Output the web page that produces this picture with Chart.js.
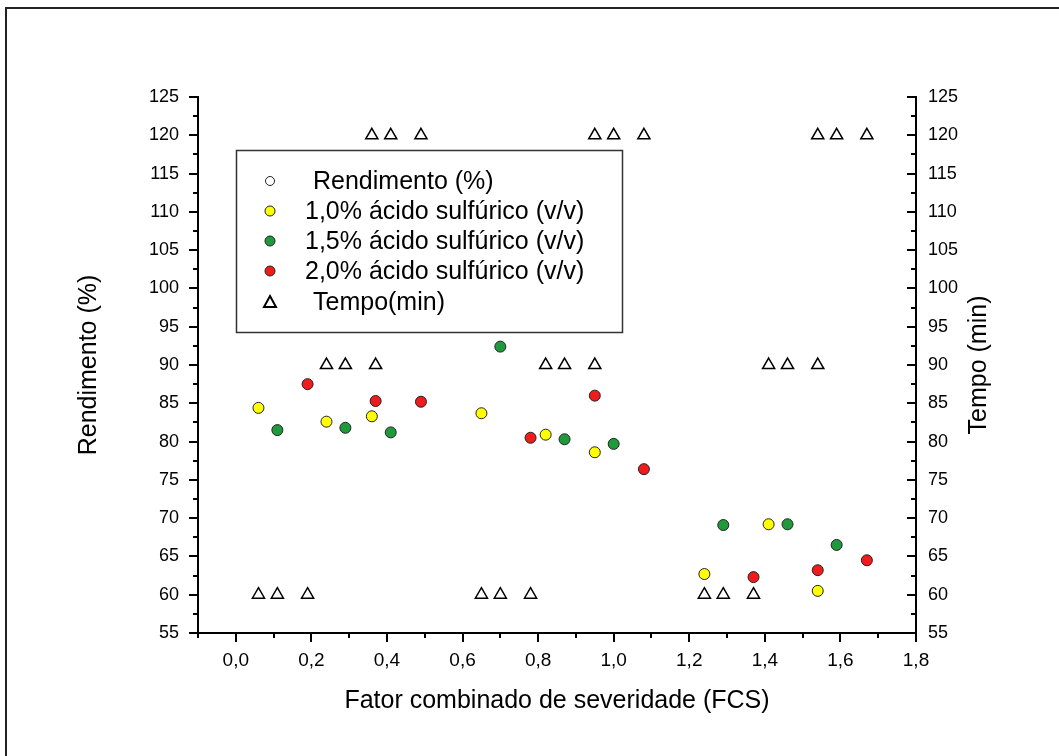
<!DOCTYPE html>
<html>
<head>
<meta charset="utf-8">
<script src="https://cdn.jsdelivr.net/npm/chart.js@4/dist/chart.umd.min.js"></script>
<style>
html,body{margin:0;padding:0;background:#fff;}
#wrap{position:relative;width:1059px;height:756px;}
</style>
</head>
<body>
<div id="wrap"><canvas id="c" width="1059" height="756"></canvas></div>
<script>
// ---- data ----
const fcs10 = [0.06, 0.24, 0.36, 0.65, 0.82, 0.95, 1.24, 1.41, 1.54];
const rend10 = [84.4, 82.6, 83.3, 83.7, 80.9, 78.6, 62.7, 69.2, 60.5];
const fcs15 = [0.11, 0.29, 0.41, 0.70, 0.87, 1.00, 1.29, 1.46, 1.59];
const rend15 = [81.5, 81.8, 81.2, 92.4, 80.3, 79.7, 69.1, 69.2, 66.5];
const fcs20 = [0.19, 0.37, 0.49, 0.78, 0.95, 1.08, 1.37, 1.54, 1.67];
const rend20 = [87.5, 85.3, 85.2, 80.5, 86.0, 76.4, 62.3, 63.2, 64.5];
const fcsTempo = [0.06, 0.11, 0.19, 0.65, 0.70, 0.78, 1.24, 1.29, 1.37,
                  0.24, 0.29, 0.37, 0.82, 0.87, 0.95, 1.41, 1.46, 1.54,
                  0.36, 0.41, 0.49, 0.95, 1.00, 1.08, 1.54, 1.59, 1.67];
const tempo = [60, 60, 60, 60, 60, 60, 60, 60, 60,
               90, 90, 90, 90, 90, 90, 90, 90, 90,
               120, 120, 120, 120, 120, 120, 120, 120, 120];
const legendLabels = ['Rendimento (%)', '1,0% ácido sulfúrico (v/v)', '1,5% ácido sulfúrico (v/v)', '2,0% ácido sulfúrico (v/v)', 'Tempo(min)'];
const xTitle = 'Fator combinado de severidade (FCS)';
const yTitle = 'Rendimento (%)';
const y2Title = 'Tempo (min)';

const pts = (xs, ys) => xs.map((x, i) => ({x: x, y: ys[i]}));

const FONT = "'Liberation Sans', Arial, sans-serif";

const frame = {
  id: 'frame',
  beforeDraw(chart) {
    const ctx = chart.ctx;
    ctx.save();
    ctx.strokeStyle = '#222';
    ctx.lineWidth = 2;
    ctx.strokeRect(6, 8, 2000, 2000);
    ctx.restore();
  }
};

const tickMarks = {
  id: 'tickMarks',
  afterDraw(chart) {
    const ctx = chart.ctx;
    const ca = chart.chartArea;
    ctx.save();
    ctx.strokeStyle = '#000';
    ctx.lineWidth = 2;
    const sx = chart.scales.x, sy = chart.scales.y, sy2 = chart.scales.y2;
    sx.ticks.forEach(t => {
      const p = Math.round(sx.getPixelForValue(t.value));
      const major = Math.abs(Math.round(t.value * 10)) % 2 === 0;
      const len = major ? 9 : 5;
      ctx.beginPath(); ctx.moveTo(p, ca.bottom); ctx.lineTo(p, ca.bottom + len); ctx.stroke();
    });
    sy.ticks.forEach(t => {
      const p = Math.round(sy.getPixelForValue(t.value));
      const major = Math.abs(Math.round(t.value * 2)) % 2 === 0;
      const len = major ? 9 : 5;
      ctx.beginPath(); ctx.moveTo(ca.left, p); ctx.lineTo(ca.left - len, p); ctx.stroke();
    });
    sy2.ticks.forEach(t => {
      const p = Math.round(sy2.getPixelForValue(t.value));
      const major = Math.abs(Math.round(t.value * 2)) % 2 === 0;
      const len = major ? 9 : 5;
      ctx.beginPath(); ctx.moveTo(ca.right, p); ctx.lineTo(ca.right - len, p); ctx.stroke();
    });
    // right axis title, reading bottom-to-top
    ctx.translate(979, (ca.top + ca.bottom) / 2);
    ctx.rotate(-Math.PI / 2);
    ctx.fillStyle = '#000';
    ctx.font = "25px " + FONT;
    ctx.textAlign = 'center';
    ctx.textBaseline = 'middle';
    ctx.fillText(y2Title, 0, 0);
    ctx.restore();
  }
};

const legendBox = {
  id: 'legendBox',
  afterDraw(chart) {
    const ctx = chart.ctx;
    ctx.save();
    ctx.strokeStyle = '#333';
    ctx.lineWidth = 1.5;
    ctx.strokeRect(236.5, 150.5, 386, 182);
    const rows = [181, 211, 241, 271, 302];
    const textX = [313, 305, 305, 305, 313];
    const fills = ['#ffffff', '#ffff00', '#1e9a3c', '#ee1c1c'];
    const radii = [4.5, 5, 5, 5];
    for (let i = 0; i < 4; i++) {
      ctx.beginPath();
      ctx.arc(270, rows[i], radii[i], 0, Math.PI * 2);
      ctx.fillStyle = fills[i];
      ctx.fill();
      ctx.lineWidth = 1;
      ctx.strokeStyle = '#222';
      ctx.stroke();
    }
    // triangle
    ctx.beginPath();
    ctx.moveTo(270, rows[4] - 6);
    ctx.lineTo(276, rows[4] + 5);
    ctx.lineTo(264, rows[4] + 5);
    ctx.closePath();
    ctx.lineWidth = 2;
    ctx.strokeStyle = '#000';
    ctx.stroke();
    ctx.fillStyle = '#000';
    ctx.font = "25px " + FONT;
    ctx.textBaseline = 'middle';
    ctx.textAlign = 'left';
    legendLabels.forEach((l, i) => ctx.fillText(l, textX[i], rows[i] + 1));
    ctx.restore();
  }
};

const ptStyle = (color) => ({
  type: 'scatter',
  backgroundColor: color,
  borderColor: '#222',
  borderWidth: 1,
  pointRadius: 5.5,
  pointHoverRadius: 5.5,
  yAxisID: 'y'
});

new Chart(document.getElementById('c'), {
  type: 'scatter',
  data: {
    datasets: [
      Object.assign({label: legendLabels[1], data: pts(fcs10, rend10)}, ptStyle('#ffff00')),
      Object.assign({label: legendLabels[2], data: pts(fcs15, rend15)}, ptStyle('#1e9a3c')),
      Object.assign({label: legendLabels[3], data: pts(fcs20, rend20)}, ptStyle('#ee1c1c')),
      {
        label: legendLabels[4],
        data: pts(fcsTempo, tempo),
        yAxisID: 'y2',
        pointStyle: 'triangle',
        pointRadius: 7,
        pointHoverRadius: 7,
        backgroundColor: 'rgba(255,255,255,1)',
        borderColor: '#000',
        borderWidth: 1.5
      }
    ]
  },
  options: {
    responsive: false,
    animation: false,
    events: [],
    layout: {padding: {left: 74, right: 62, top: 97, bottom: 40}},
    plugins: {legend: {display: false}, tooltip: {enabled: false}},
    scales: {
      x: {
        type: 'linear',
        min: -0.1, max: 1.8,
        afterFit(s) { s.height = 83; },
        border: {display: true, color: '#000', width: 2},
        grid: {display: false, drawTicks: false},
        ticks: {
          stepSize: 0.1, autoSkip: false, maxRotation: 0, padding: 16,
          color: '#000',
          font: {family: FONT, size: 19},
          callback(v) {
            const k = Math.round(v * 10);
            if (k < 0 || k % 2 !== 0) return '';
            return (k / 10).toFixed(1).replace('.', ',');
          }
        },
        title: {display: true, text: xTitle, color: '#000', font: {family: FONT, size: 25}, padding: {top: 4, bottom: 0}}
      },
      y: {
        position: 'left',
        min: 55, max: 125,
        afterFit(s) { s.width = 124; },
        border: {display: true, color: '#000', width: 2},
        grid: {display: false, drawTicks: false},
        ticks: {
          stepSize: 2.5, autoSkip: false, padding: 19, color: '#000',
          font: {family: FONT, size: 18},
          callback(v) { return Math.round(v * 2) % 2 === 0 ? String(v) : ''; }
        },
        title: {display: true, text: yTitle, color: '#000', font: {family: FONT, size: 25}, padding: {top: 0, bottom: 0}}
      },
      y2: {
        position: 'right',
        min: 55, max: 125,
        afterFit(s) { s.width = 81; },
        border: {display: true, color: '#000', width: 2},
        grid: {display: false, drawTicks: false},
        ticks: {
          stepSize: 2.5, autoSkip: false, padding: 12, color: '#000',
          font: {family: FONT, size: 18},
          callback(v) { return Math.round(v * 2) % 2 === 0 ? String(v) : ''; }
        },
        title: {display: false}
      }
    }
  },
  plugins: [frame, tickMarks, legendBox]
});
</script>
</body>
</html>
